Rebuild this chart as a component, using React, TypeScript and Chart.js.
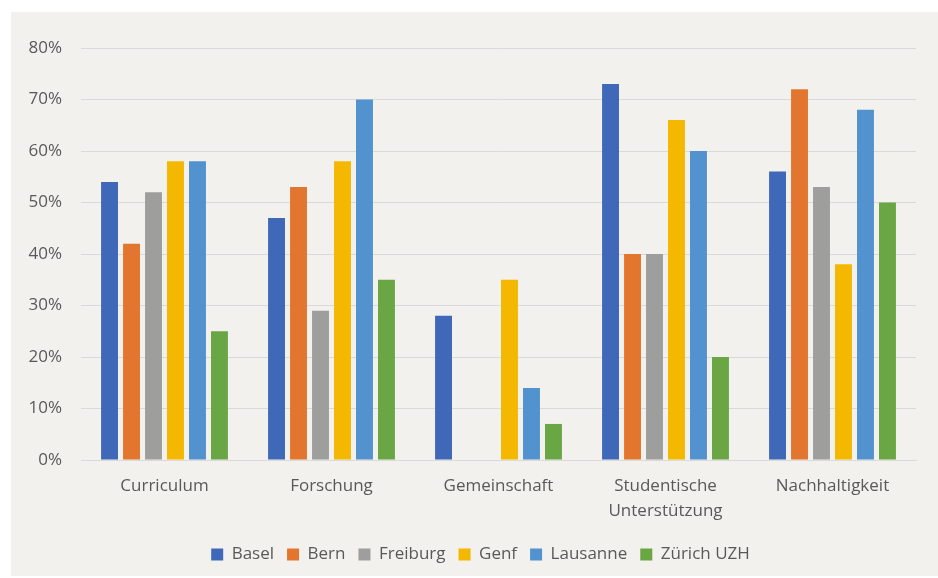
import React, { useEffect, useRef } from "react";
import { Chart, registerables } from "chart.js";

Chart.register(...registerables);

const categories: (string | string[])[] = [
  "Curriculum",
  "Forschung",
  "Gemeinschaft",
  ["Studentische", "Unterstützung"],
  "Nachhaltigkeit",
];

const basel = [54, 47, 28, 73, 56];
const bern = [42, 53, 0, 40, 72];
const freiburg = [52, 29, 0, 40, 53];
const genf = [58, 58, 35, 66, 38];
const lausanne = [58, 70, 14, 60, 68];
const zuerich = [25, 35, 7, 20, 50];

const seriesNames = ["Basel", "Bern", "Freiburg", "Genf", "Lausanne", "Zürich UZH"];
const seriesValues = [basel, bern, freiburg, genf, lausanne, zuerich];
const seriesColors = ["#3F69B8", "#E2762E", "#9E9E9C", "#F4B800", "#5192CF", "#6BA645"];

const yTicks = [0, 10, 20, 30, 40, 50, 60, 70, 80];

const FONT = "'Open Sans', 'Noto Sans', sans-serif";
const TEXT = "#595959";

const legendShift = {
  id: "legendShift",
  afterLayout(chart: any) {
    const lg = chart.legend;
    if (lg) {
      lg.left += 17;
      lg.right += 17;
    }
  },
};

export default function App() {
  const ref = useRef<HTMLCanvasElement | null>(null);

  useEffect(() => {
    if (!ref.current) return;
    const chart = new Chart(ref.current, {
      type: "bar",
      data: {
        labels: categories,
        datasets: seriesNames.map((n, i) => ({
          label: n,
          data: seriesValues[i],
          backgroundColor: seriesColors[i],
          borderWidth: 0,
          categoryPercentage: 0.79,
          barPercentage: 0.77,
        })),
      },
      options: {
        animation: false,
        responsive: false,
        maintainAspectRatio: false,
        layout: { padding: { left: 0, right: 22, top: 36, bottom: 3 } },
        plugins: {
          tooltip: { enabled: false },
          legend: {
            position: "bottom",
            labels: {
              boxWidth: 12,
              boxHeight: 12,
              padding: 13,
              color: TEXT,
              font: { family: FONT, size: 17 },
            },
          },
        },
        scales: {
          x: {
            grid: { display: false, drawTicks: false },
            border: { display: true, color: "#d9d9d9", width: 1 },
            ticks: {
              color: TEXT,
              padding: 14,
              maxRotation: 0,
              autoSkip: false,
              font: { family: FONT, size: 17, lineHeight: 1.45 },
            },
            afterFit: (s: any) => {
              s.height = 73;
            },
          },
          y: {
            min: 0,
            max: 80,
            afterBuildTicks: (s: any) => {
              s.ticks = yTicks.map((v) => ({ value: v }));
            },
            grid: { color: "#d9d9d9", lineWidth: 1, drawTicks: false },
            border: { display: false },
            ticks: {
              color: TEXT,
              padding: 19,
              font: { family: FONT, size: 17 },
              callback: (v: any) => v + "%",
            },
            afterFit: (s: any) => {
              s.width = 70;
            },
          },
        },
      },
      plugins: [legendShift],
    });
    return () => chart.destroy();
  }, []);

  return (
    <div
      style={{
        position: "absolute",
        left: 11,
        top: 12,
        width: 927,
        height: 564,
        background: "#f2f1ee",
      }}
    >
      <canvas ref={ref} width={927} height={564} />
    </div>
  );
}
